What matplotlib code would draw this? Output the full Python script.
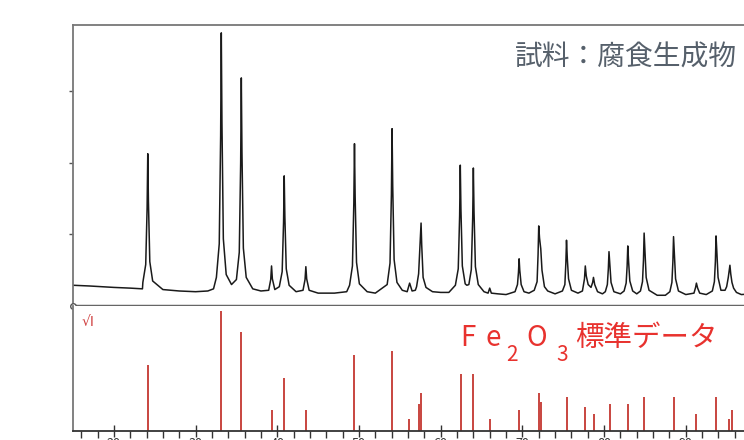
import numpy as np
import matplotlib
matplotlib.use("Agg")
import matplotlib.pyplot as plt

plt.rcParams['font.family'] = ['Noto Sans CJK JP', 'DejaVu Sans']

scan_2theta = [
    15.0, 17.0, 20.0, 22.0, 23.5,
    23.55, 23.9, 24.07, 24.15, 24.23, 24.4, 24.75,
    26.0, 28.0, 30.0, 31.5, 32.2,
    32.55, 32.9, 33.07, 33.15, 33.23, 33.4, 33.75,
    34.4,
    35.0, 35.35, 35.52, 35.6, 35.68, 35.85, 36.2,
    37.0, 38.0,
    38.95, 39.2, 39.3, 39.4, 39.7,
    40.25, 40.6, 40.77, 40.85, 40.93, 41.1, 41.45,
    42.3,
    43.15, 43.4, 43.5, 43.6, 43.9,
    45.0, 47.0, 48.5,
    48.85, 49.2, 49.37, 49.45, 49.53, 49.7, 50.05,
    51.0, 52.0,
    53.45, 53.8, 53.97, 54.05, 54.13, 54.3, 54.65,
    55.3, 55.9, 56.2, 56.5, 56.9,
    57.05, 57.3, 57.45, 57.52, 57.6, 57.68, 57.85, 58.2,
    59.0, 60.0, 61.0,
    61.8, 62.15, 62.32, 62.4, 62.48, 62.65, 63.0,
    63.2,
    63.45, 63.75, 63.92, 64.0, 64.08, 64.25, 64.6,
    65.3, 65.8, 66.0, 66.2,
    67.0, 68.0,
    69.1, 69.4, 69.52, 69.6, 69.68, 69.85, 70.2,
    70.8,
    71.45, 71.8, 71.92, 72.0, 72.1, 72.25, 72.4, 72.7, 73.1,
    74.0,
    74.9, 75.2, 75.32, 75.4, 75.5, 75.65, 76.0,
    76.8,
    77.35, 77.6, 77.7, 77.82, 78.05,
    78.4, 78.6, 78.7, 78.85, 79.2,
    79.8,
    80.15, 80.4, 80.52, 80.6, 80.7, 80.85, 81.2,
    82.0,
    82.45, 82.7, 82.82, 82.9, 83.0, 83.15, 83.5,
    84.0,
    84.45, 84.7, 84.82, 84.9, 85.0, 85.15, 85.5,
    86.5, 87.5,
    88.05, 88.3, 88.42, 88.5, 88.6, 88.75, 89.1,
    90.0,
    91.0, 91.2, 91.3, 91.45, 91.7,
    92.5,
    93.25, 93.5, 93.62, 93.7, 93.8, 93.95, 94.3,
    94.8,
    95.0, 95.2, 95.4, 95.5, 95.65, 95.85, 96.2,
    96.8, 98.0, 100.0,
]
scan_counts = [
    0.29, 0.28, 0.26, 0.25, 0.24,
    0.33, 0.58, 1.37, 2.13, 1.47, 0.62, 0.35,
    0.23, 0.21, 0.20, 0.21, 0.24,
    0.40, 0.87, 2.38, 3.82, 2.56, 0.94, 0.44,
    0.30,
    0.37, 0.75, 2.00, 3.19, 2.15, 0.81, 0.40,
    0.24, 0.21,
    0.22, 0.37, 0.56, 0.38, 0.23,
    0.27, 0.48, 1.17, 1.82, 1.25, 0.52, 0.29,
    0.20,
    0.22, 0.37, 0.55, 0.38, 0.22,
    0.18, 0.18, 0.20,
    0.29, 0.56, 1.44, 2.27, 1.54, 0.61, 0.31,
    0.20, 0.18,
    0.30, 0.60, 1.56, 2.48, 1.68, 0.65, 0.33,
    0.22, 0.20, 0.32, 0.21, 0.22,
    0.27, 0.45, 0.80, 0.98, 1.16, 0.85, 0.40, 0.26,
    0.20, 0.19, 0.19,
    0.29, 0.52, 1.26, 1.97, 1.35, 0.56, 0.31,
    0.29,
    0.30, 0.51, 1.24, 1.93, 1.32, 0.55, 0.30,
    0.20, 0.18, 0.25, 0.18,
    0.17, 0.16,
    0.20, 0.30, 0.47, 0.66, 0.50, 0.30, 0.20,
    0.18,
    0.22, 0.34, 0.72, 1.12, 0.95, 0.80, 0.50, 0.27, 0.21,
    0.17,
    0.21, 0.30, 0.60, 0.92, 0.66, 0.38, 0.22,
    0.18,
    0.21, 0.38, 0.56, 0.42, 0.30,
    0.26, 0.33, 0.40, 0.30, 0.20,
    0.17,
    0.20, 0.30, 0.52, 0.76, 0.58, 0.33, 0.20,
    0.17,
    0.21, 0.32, 0.56, 0.84, 0.62, 0.35, 0.21,
    0.17,
    0.21, 0.34, 0.64, 1.02, 0.76, 0.40, 0.22,
    0.15, 0.15,
    0.20, 0.33, 0.62, 0.97, 0.74, 0.38, 0.21,
    0.16,
    0.18, 0.26, 0.32, 0.25, 0.18,
    0.16,
    0.21, 0.34, 0.62, 0.98, 0.76, 0.40, 0.22,
    0.22,
    0.27, 0.40, 0.57, 0.45, 0.33, 0.25, 0.19,
    0.16, 0.17, 0.16,
]

# Fe2O3 standard data (2theta, relative intensity I)
std_2theta = [24.15, 33.15, 35.6, 39.3, 40.85, 43.5, 49.45, 54.05, 56.15, 57.4,
              57.6, 62.45, 63.95, 66.0, 69.6, 72.0, 72.3, 75.4, 77.7, 78.75,
              80.7, 82.9, 84.9, 88.5, 91.3, 93.7, 95.3, 95.7]
std_intensity = [30, 100, 69, 3, 20, 3, 40, 45, 1, 5,
                 10, 23, 23, 1, 3, 10, 6, 8, 4, 2,
                 5, 5, 8, 8, 2, 8, 1, 3]

major_ticks = [20, 30, 40, 50, 60, 70, 80, 90]

W, H = 744, 440
fig = plt.figure(figsize=(W / 100, H / 100), dpi=100)

x_left = 73 / W
x_width = 694.5 / W
ax1 = fig.add_axes([x_left, 134 / H, x_width, 281 / H])
ax2 = fig.add_axes([x_left, 9 / H, x_width, 125 / H])

# upper panel: measured scan
ax1.plot(scan_2theta, scan_counts, color='#1a1a1a', lw=1.1)
ax1.set_xlim(15, 100)
ax1.set_ylim(0, 3.93)
ax1.set_xticks([])
ax1.set_yticks([1, 2, 3])
ax1.set_yticklabels([])
ax1.tick_params(axis='y', direction='out', length=3, width=1, color='#555555')
for s in ['left', 'top']:
    ax1.spines[s].set_color('#777777')
    ax1.spines[s].set_linewidth(1.3)
ax1.spines['right'].set_visible(False)
ax1.spines['bottom'].set_color('#666666')
ax1.spines['bottom'].set_linewidth(2.5)
ax1.plot([15], [0], marker='o', ms=4, mfc='white', mec='#555555', mew=1, clip_on=False, zorder=5)
fig.text(737 / W, 1 - 58 / H, '試料：腐食生成物', ha='right', va='center',
         fontsize=20, color='#56606b')

# lower panel: standard stick pattern
ax2.vlines(std_2theta, 0, np.sqrt(std_intensity), color='#c8453f', lw=1.4)
ax2.set_xlim(15, 100)
ax2.set_ylim(0, 10.45)
ax2.set_yticks([])
ax2.set_xticks(major_ticks)
ax2.set_xticks(np.arange(16, 100, 2), minor=True)
ax2.tick_params(axis='x', which='major', direction='inout', length=9, width=1, color='#333333',
                labelsize=9, pad=0, labelcolor='#333333')
ax2.tick_params(axis='x', which='minor', direction='out', length=5, width=1, color='#333333')
ax2.spines['top'].set_visible(False)
ax2.spines['right'].set_visible(False)
ax2.spines['left'].set_color('#777777')
ax2.spines['left'].set_linewidth(1.3)
ax2.spines['bottom'].set_color('#333333')
ax2.spines['bottom'].set_linewidth(1.3)
ax2.text(0.012, 0.93, '√I', transform=ax2.transAxes, ha='left', va='top', fontsize=10,
         color='#d04040', family=['DejaVu Sans'])

# red caption "Fe2O3標準データ" with lowered subscripts
red = '#e8322e'
y_main = 1 - 338 / H
y_sub = 1 - 355 / H
for txt, xc, yc, fs in [('F', 467.5, y_main, 20), ('e', 493.5, y_main, 20), ('2', 511.5, y_sub, 15),
                        ('O', 536.5, y_main, 20), ('3', 562.5, y_sub, 15), ('標準データ', 646, y_main, 20.5)]:
    fig.text(xc / W, yc, txt, ha='center', va='center', fontsize=fs, color=red)

fig.savefig('out.png', dpi=100)
